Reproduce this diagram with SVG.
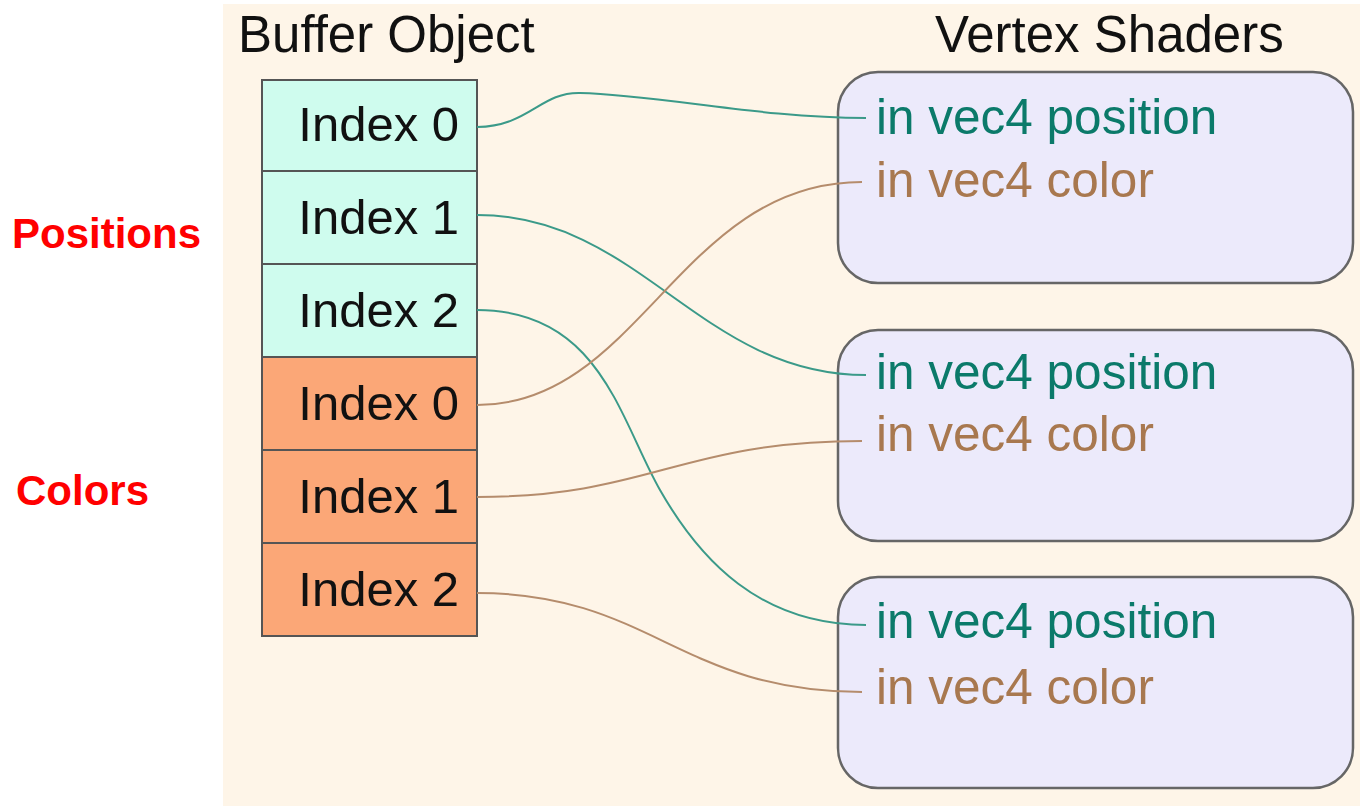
<svg xmlns="http://www.w3.org/2000/svg" width="1360" height="806" viewBox="0 0 1360 806">
<style>
.t{font-family:"Liberation Sans",Arial,sans-serif}
.hdr{font-size:51px;fill:#111}
.idx{font-size:49px;fill:#111;text-anchor:end}
.pos{font-size:49.5px;fill:#0b7a6a}
.col{font-size:49.5px;fill:#a8784f}
.lbl{font-size:42px;font-weight:bold;fill:#ff0000}
.cellp{fill:#cffcee;stroke:#555;stroke-width:2}
.cellc{fill:#fba777;stroke:#555;stroke-width:2}
.sh{fill:#eceafb;stroke:#666;stroke-width:2.5}
.cp{fill:none;stroke:#3b9a89;stroke-width:2}
.cc{fill:none;stroke:#b58c6c;stroke-width:2}
</style>
<rect x="0" y="0" width="1360" height="806" fill="#ffffff"/>
<rect x="223" y="4" width="1137" height="802" fill="#fef5e8"/>
<text class="t lbl" x="12" y="248">Positions</text>
<text class="t lbl" x="16" y="505">Colors</text>
<text class="t hdr" x="238" y="52">Buffer Object</text>
<text class="t hdr" x="935" y="52">Vertex Shaders</text>
<g id="buffer">
<g id="pos0"><rect class="cellp" x="262" y="80" width="215" height="91"/><text class="t idx" x="459" y="141">Index 0</text></g>
<g id="pos1"><rect class="cellp" x="262" y="171" width="215" height="93"/><text class="t idx" x="459" y="234">Index 1</text></g>
<g id="pos2"><rect class="cellp" x="262" y="264" width="215" height="93"/><text class="t idx" x="459" y="327">Index 2</text></g>
<g id="col0"><rect class="cellc" x="262" y="357" width="215" height="93"/><text class="t idx" x="459" y="420">Index 0</text></g>
<g id="col1"><rect class="cellc" x="262" y="450" width="215" height="93"/><text class="t idx" x="459" y="513">Index 1</text></g>
<g id="col2"><rect class="cellc" x="262" y="543" width="215" height="93"/><text class="t idx" x="459" y="606">Index 2</text></g>
</g>
<g id="shader1"><rect class="sh" x="838" y="72" width="515" height="211" rx="40"/><text class="t pos" x="876" y="134">in vec4 position</text><text class="t col" x="876" y="197">in vec4 color</text></g>
<g id="shader2"><rect class="sh" x="838" y="330" width="515" height="211" rx="40"/><text class="t pos" x="876" y="389">in vec4 position</text><text class="t col" x="876" y="451">in vec4 color</text></g>
<g id="shader3"><rect class="sh" x="838" y="577" width="515" height="211" rx="40"/><text class="t pos" x="876" y="638">in vec4 position</text><text class="t col" x="876" y="704">in vec4 color</text></g>
<g id="connectors">
<path class="cp" d="M477,127 C530,126 540,92 580,93 C660,95 760,118 866,118"/>
<path class="cp" d="M477,215 C640,215 700,375 866,375"/>
<path class="cp" d="M477,310 C600,310 620,420 660,490 C700,560 760,625 866,625"/>
<path class="cc" d="M477,405 C640,405 680,182 862,182"/>
<path class="cc" d="M477,497 C650,497 680,441 862,441"/>
<path class="cc" d="M477,593 C650,593 680,692 862,692"/>
</g>
</svg>
